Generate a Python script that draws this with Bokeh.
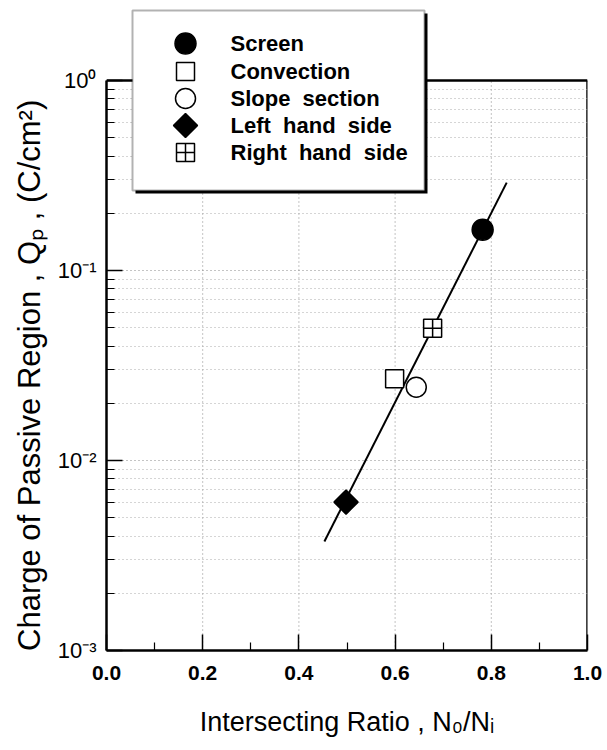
from bokeh.plotting import figure
from bokeh.models import Range1d, FixedTicker, BoxAnnotation, Label
from bokeh.embed import file_html
from bokeh.resources import INLINE
import numpy as np

# ---- data ----
series_names = ["Screen", "Convection", "Slope\u00a0 section", "Left\u00a0 hand\u00a0 side", "Right\u00a0 hand\u00a0 side"]
ratio_x = [0.782, 0.599, 0.644, 0.498, 0.678]
charge_q = [0.164, 0.0269, 0.0243, 0.00604, 0.0497]

fit_x = [0.453, 0.832]
fit_q = [0.00375, 0.29]

x_ticks = [0.0, 0.2, 0.4, 0.6, 0.8, 1.0]
x_minor = [0.1, 0.3, 0.5, 0.7, 0.9]
x_grid = [0.2, 0.4, 0.6, 0.8]
x_tick_labels = ["0.0", "0.2", "0.4", "0.6", "0.8", "1.0"]
y_ticks = [0.001, 0.01, 0.1, 1.0]
y_tick_labels = ["10\u207b\u00b3", "10\u207b\u00b2", "10\u207b\u00b9", "10\u2070"]
y_minor = [m * d for d in [0.001, 0.01, 0.1] for m in range(2, 10)]

FONT = "Liberation Sans"
NARROW = "Liberation Sans Narrow, Liberation Sans"

# ---- layout (pixels) ----
FL, FB = 106, 650          # frame left / bottom on the canvas
PW, PH = 481, 570          # plotting box width / height (x 0..1, y 1e-3..1)
TOP = 5                    # frame extends up to here so the legend fits inside
DEC = PH / 3.0             # pixels per decade
y_lo, y_hi = y_ticks[0], y_ticks[-1]
y_top = y_hi * 10 ** ((FB - PH - TOP) / DEC)


def px2x(px):
    return x_ticks[0] + (px - FL) / PW * (x_ticks[-1] - x_ticks[0])


def py2y(py):
    return y_lo * 10 ** ((FB - py) / DEC)


p = figure(width=607, height=750, frame_width=PW, frame_height=FB - TOP,
           x_range=Range1d(x_ticks[0], x_ticks[-1]), y_range=Range1d(y_lo, y_top),
           y_axis_type="log", output_backend="svg", toolbar_location=None,
           min_border_left=FL, min_border_right=607 - FL - PW,
           min_border_top=TOP, min_border_bottom=750 - FB)
p.background_fill_color = "white"
p.border_fill_color = "white"
p.outline_line_color = None

# axes
p.xaxis.ticker = FixedTicker(ticks=x_ticks, minor_ticks=x_minor)
p.xaxis.major_label_overrides = {t: l for t, l in zip(x_ticks, x_tick_labels)}
p.yaxis.ticker = FixedTicker(ticks=y_ticks, minor_ticks=y_minor)
p.yaxis.major_label_overrides = {t: l for t, l in zip(y_ticks, y_tick_labels)}
p.yaxis.bounds = (y_lo, y_hi)
for ax in (p.xaxis[0], p.yaxis[0]):
    ax.axis_line_width = 2.5
    ax.axis_line_color = "black"
    ax.major_tick_in = 16
    ax.major_tick_out = 0
    ax.minor_tick_in = 8
    ax.minor_tick_out = 0
    ax.major_tick_line_width = 1.5
    ax.minor_tick_line_width = 1.2
    ax.major_label_text_color = "black"
    ax.axis_label_text_color = "black"
    ax.axis_label_text_font_style = "normal"
p.xaxis.major_label_text_font = FONT
p.xaxis.major_label_text_font_style = "bold"
p.xaxis.major_label_text_font_size = "21px"
p.xaxis.major_label_standoff = 15
p.yaxis.major_label_text_font = FONT
p.yaxis.major_label_text_font_size = "22px"
p.yaxis.major_label_standoff = 10

p.xaxis.axis_label = "Intersecting Ratio , N\u2080/N\u1d62"
# trailing no-break spaces shift the centred label down to the plotting box centre
p.yaxis.axis_label = "Charge of Passive Region , Q\u209a , (C/cm\u00b2)" + "\u00a0" * 11
p.xaxis.axis_label_text_font = NARROW
p.yaxis.axis_label_text_font = NARROW
p.xaxis.axis_label_text_font_size = "27px"
p.yaxis.axis_label_text_font_size = "31px"
p.xaxis.axis_label_standoff = 24
p.yaxis.axis_label_standoff = 8

# grid: horizontal via Grid model (only up to 1), vertical drawn within the plot box
p.xgrid.visible = False
p.ygrid.ticker = FixedTicker(ticks=y_ticks[:-1], minor_ticks=y_minor)
p.ygrid.grid_line_color = "#888888"
p.ygrid.grid_line_dash = "1 3"
p.ygrid.minor_grid_line_color = "#aaaaaa"
p.ygrid.minor_grid_line_dash = "1 3"
p.segment(x0=x_grid, y0=[y_lo] * len(x_grid), x1=x_grid, y1=[y_hi] * len(x_grid),
          line_color="#888888", line_dash="1 3", line_width=1, level="underlay")

# top and right frame lines of the plotting box
p.segment(x0=[x_ticks[0], x_ticks[-1]], y0=[y_hi, y_lo], x1=[x_ticks[-1], x_ticks[-1]], y1=[y_hi, y_hi],
          line_color="black", line_width=2.5, level="underlay")

# legend box with drop shadow (screen units are relative to the frame's bottom-left)
LB = dict(l=132, r=424, t=10, b=190)
p.add_layout(BoxAnnotation(left=LB["l"] + 3 - FL, right=LB["r"] + 3 - FL,
                           top=FB - (LB["t"] + 3), bottom=FB - (LB["b"] + 3),
                           left_units="screen", right_units="screen",
                           top_units="screen", bottom_units="screen",
                           fill_color="black", fill_alpha=1.0, line_color=None, level="underlay"))
p.add_layout(BoxAnnotation(left=LB["l"] - FL, right=LB["r"] - FL,
                           top=FB - LB["t"], bottom=FB - LB["b"],
                           left_units="screen", right_units="screen",
                           top_units="screen", bottom_units="screen",
                           fill_color="white", fill_alpha=1.0, line_color="black",
                           line_width=2, level="underlay"))

# fit line
p.line(fit_x, fit_q, line_color="black", line_width=2)

styles = [
    dict(marker="circle", size=21, fill_color="black", line_color="black"),
    dict(marker="square", size=18, fill_color="white", line_color="black"),
    dict(marker="circle", size=20, fill_color="white", line_color="black"),
    dict(marker="square", size=17, fill_color="black", line_color="black", angle=np.pi / 4),
    dict(marker="square_cross", size=18, fill_color="white", line_color="black"),
]
legend_rows = [43, 71, 98, 125, 152]
KEY_X, TEXT_X = 185, 230
for i, name in enumerate(series_names):
    p.scatter([ratio_x[i]], [charge_q[i]], line_width=1.5, **styles[i])
    # legend key + label
    p.scatter([px2x(KEY_X)], [py2y(legend_rows[i])], line_width=1.5, **styles[i])
    p.add_layout(Label(x=TEXT_X - FL, y=FB - legend_rows[i], x_units="screen", y_units="screen",
                       text=name, text_font=FONT, text_font_style="bold",
                       text_font_size="22px", text_baseline="middle", text_color="black"))

open("out.html", "w").write(file_html(p, INLINE))
